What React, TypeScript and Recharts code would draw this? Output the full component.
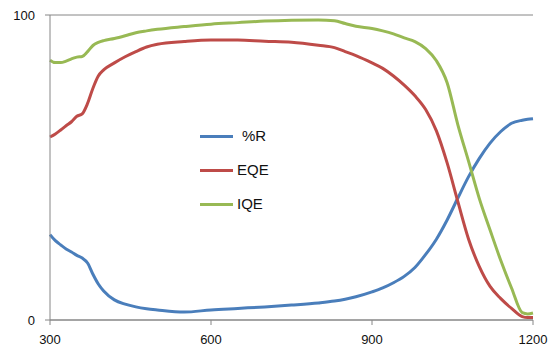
import React from 'react';
import { LineChart, Line, XAxis, YAxis, CartesianGrid, Legend } from 'recharts';

const wavelengths = [300,310,320,330,340,350,360,370,380,390,400,420,440,460,480,500,550,600,650,700,750,800,830,850,870,900,920,940,960,980,1000,1020,1040,1060,1080,1100,1120,1140,1160,1180,1190,1200];

const reflectance = [28,26,24.6,23.3,22.3,21.2,20.3,18.7,15,11.8,9.5,6.6,5.2,4.3,3.7,3.3,2.6,3.3,3.8,4.3,4.9,5.6,6.2,6.8,7.6,9.2,10.5,12.2,14.3,17.2,21.5,26.5,32.8,40,47,53,58,61.8,64.5,65.5,65.8,66];

const eqe = [60,61,62.3,63.7,65,66.8,67.6,71,76,80,82,84.3,86.3,88,89.5,90.4,91.3,91.8,91.8,91.4,91.1,90.1,89.3,88,86.7,84.3,82.5,80,77,73.5,69,62,51.5,38.8,26.5,17.5,11,7,3.8,1.1,0.8,0.8];

const iqe = [85.2,84.4,84.4,84.9,85.6,86.2,86.4,88,90,91,91.6,92.3,93.2,94.2,94.8,95.3,96.2,97,97.5,98,98.3,98.4,98.1,97.2,96.3,95.6,94.8,93.8,92.5,91.3,89,85,77.8,64,52,39.8,29.5,19.5,10.5,2.4,2,2.3];

const xTicks = [300, 600, 900, 1200];
const yTicks = [0, 100];

const seriesNames = ['%R', 'EQE', 'IQE'];
const colors = ['#4A7EBB', '#BE4B48', '#98B954'];

const data = wavelengths.map((w, i) => ({
  w,
  r: reflectance[i],
  eqe: eqe[i],
  iqe: iqe[i],
}));

const FONT = '"Liberation Sans", Arial, sans-serif';

const LegendContent = (props: any) => {
  const payload = props.payload || [];
  return (
    <div style={{ fontFamily: FONT, fontSize: 15, color: '#111' }}>
      {payload.map((p: any, i: number) => (
        <div key={i} style={{ display: 'flex', alignItems: 'center', height: 20, marginBottom: 14 }}>
          <div style={{ width: 33, height: 3, background: p.color, marginRight: i === 0 ? 9 : 4 }} />
          <span style={{ lineHeight: '20px' }}>{p.value}</span>
        </div>
      ))}
    </div>
  );
};

export default function App() {
  return (
    <div style={{ position: 'absolute', left: 0, top: 0, width: 552, height: 353, background: '#fff' }}>
      <LineChart width={552} height={353} data={data} margin={{ top: 15, right: 19, left: 0, bottom: 0 }}>
        <CartesianGrid vertical={false} stroke="#868686" strokeWidth={1} />
        <XAxis
          dataKey="w"
          type="number"
          domain={[300, 1200]}
          ticks={xTicks}
          height={33}
          stroke="#868686"
          tickSize={5}
          tickMargin={10}
          tick={{ fill: '#111', fontSize: 13, fontFamily: FONT }}
          tickLine={{ stroke: '#868686' }}
          axisLine={{ stroke: '#868686' }}
        />
        <YAxis
          type="number"
          domain={[0, 100]}
          ticks={yTicks}
          width={50}
          stroke="#868686"
          tickSize={5}
          tickMargin={10}
          tick={{ fill: '#111', fontSize: 13, fontFamily: FONT }}
          tickLine={{ stroke: '#868686' }}
          axisLine={{ stroke: '#868686' }}
        />
        <Legend
          layout="vertical"
          align="center"
          verticalAlign="middle"
          content={<LegendContent />}
          wrapperStyle={{ position: 'absolute', left: 200, top: 126, width: 120 }}
        />
        <Line type="monotone" dataKey="r" name={seriesNames[0]} stroke={colors[0]} strokeWidth={3} dot={false} isAnimationActive={false} />
        <Line type="monotone" dataKey="eqe" name={seriesNames[1]} stroke={colors[1]} strokeWidth={3} dot={false} isAnimationActive={false} />
        <Line type="monotone" dataKey="iqe" name={seriesNames[2]} stroke={colors[2]} strokeWidth={3} dot={false} isAnimationActive={false} />
      </LineChart>
    </div>
  );
}
